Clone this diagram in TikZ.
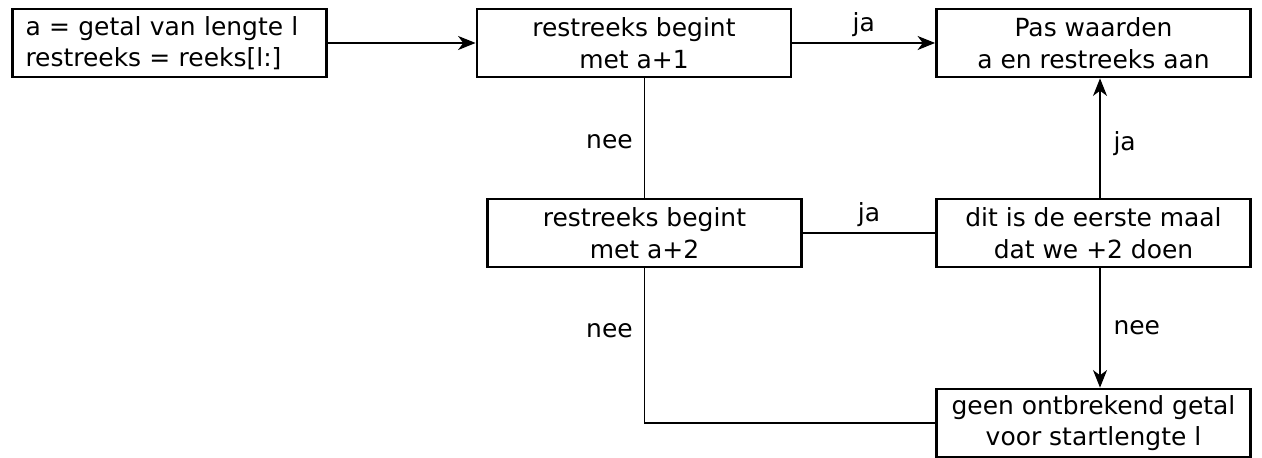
\documentclass[tikz,border=0pt]{standalone}
\usepackage{fontspec}
\setmainfont{DejaVu Sans}
\usetikzlibrary{arrows.meta}

\begin{document}
\begin{tikzpicture}[
    box/.style={draw, line width=1.6pt, minimum width=6.28cm, minimum height=1.36cm,
      align=center, inner sep=0pt, font=\fontsize{14.2pt}{18pt}\selectfont},
    conn/.style={line width=0.7pt},
    arr/.style={conn, -{Stealth[length=10pt, width=8pt, inset=3pt]}},
    lbl/.style={font=\fontsize{14.2pt}{18pt}\selectfont}
  ]
  \useasboundingbox (0,0) rectangle (25.24,-9.16);

  % Draw the boxes
  \node[box, align=left, text width=5.76cm] (start) at (3.39,-0.86) {a = getal van lengte l\\restreeks = reeks[l:]};
  \node[box] (plus1) at (12.68,-0.86) {restreeks begint\\met a+1};
  \node[box] (pas) at (21.87,-0.86) {Pas waarden\\a en restreeks aan};
  \node[box] (plus2) at (12.89,-4.66) {restreeks begint\\met a+2};
  \node[box] (eerste) at (21.87,-4.66) {dit is de eerste maal\\dat we +2 doen};
  \node[box] (geen) at (21.87,-8.46) {geen ontbrekend getal\\voor startlengte l};

  % Connect them
  \draw[arr] (start) -- (plus1);
  \draw[arr] (plus1) -- node[lbl, above=0pt] {ja} (pas);
  \draw[conn] (plus1.south -| plus2.north) -- node[lbl, pos=0.53, left=3pt] {nee} (plus2.north);
  \draw[conn] (plus2) -- node[lbl, above=0pt] {ja} (eerste);
  \draw[arr] ([xshift=0.13cm]eerste.north) -- node[lbl, pos=0.45, right=4pt] {ja} ([xshift=0.13cm]pas.south);
  \draw[arr] ([xshift=0.13cm]eerste.south) -- node[lbl, right=4pt] {nee} ([xshift=0.13cm]geen.north);
  \draw[conn] (plus2.south) |- node[lbl, pos=0.2, left=3pt] {nee} (geen.west);
\end{tikzpicture}
\end{document}
